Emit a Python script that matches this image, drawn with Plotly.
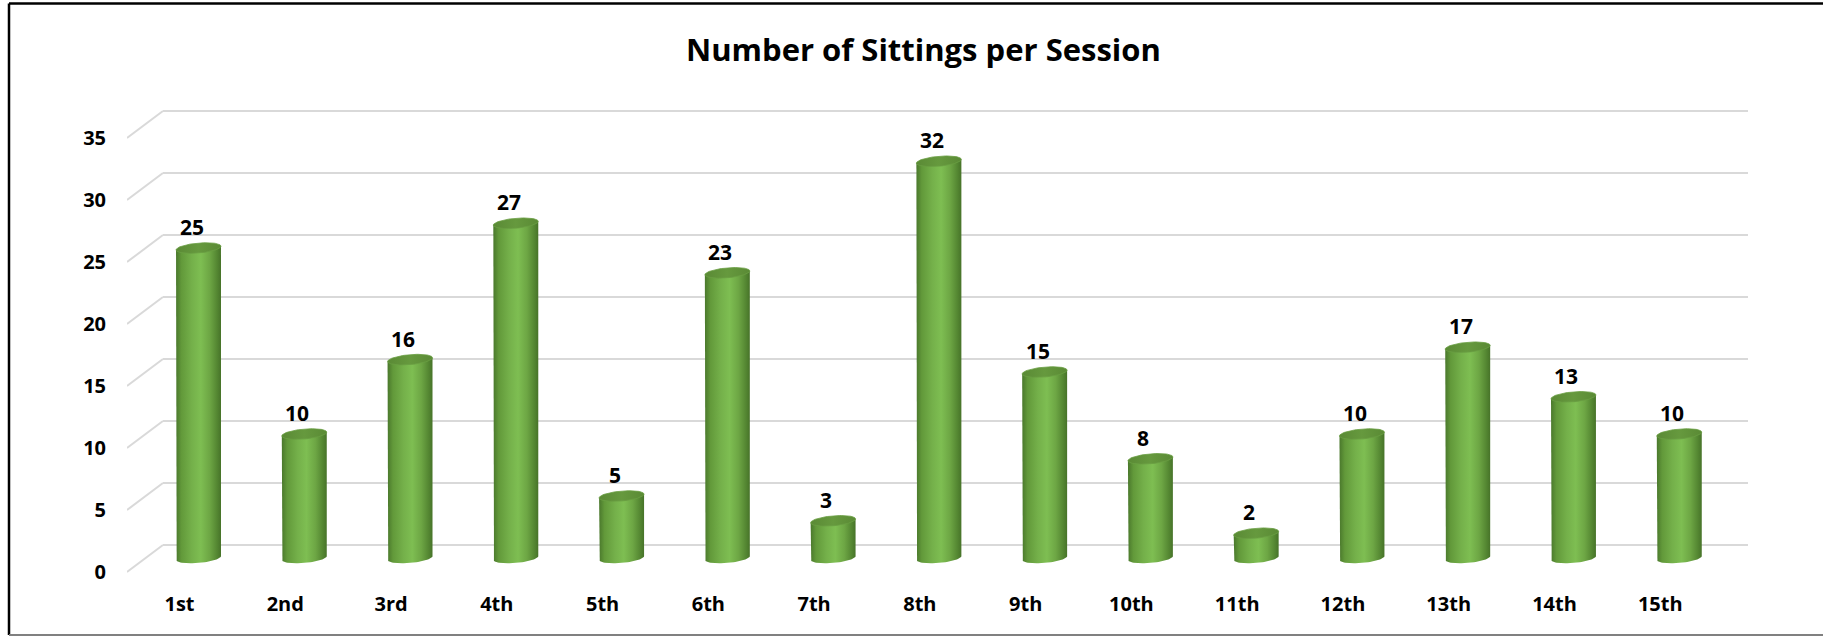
import numpy as np
import plotly.graph_objects as go

# ---- data ----
sessions = ["1st", "2nd", "3rd", "4th", "5th", "6th", "7th", "8th", "9th", "10th",
            "11th", "12th", "13th", "14th", "15th"]
sittings = [25, 10, 16, 27, 5, 23, 3, 32, 15, 8, 2, 10, 17, 13, 10]
y_ticks = [0, 5, 10, 15, 20, 25, 30, 35]
title_text = "Number of Sittings per Session"

# ---- layout geometry (pixels) ----
W, H = 1823, 637
ML, MR, MT, MB = 127, 75, 100, 47
PW, PH = W - ML - MR, H - MT - MB
X0, X1 = -0.676, 14.65
Y0, Y1 = -2.58, 36.94


def px_x(px):
    return (px - ML) / PW


def px_y(py):
    return (H - MB - py) / PH


HALF_W = 0.2125      # half bar width (x units)
RY = 0.40            # ellipse half height (y units)
TILT = 0.15          # ellipse tilt (y units)
BACK_OFF = 1.05      # back wall offset (y units)
FRONT_OFF = 1.13     # front plane offset (y units)
BACK_X = -0.336      # back wall start (x units)

FONT = "Open Sans"

body_scale = [[0.0, "#4a782c"], [0.12, "#62993a"], [0.35, "#74b04a"],
              [0.55, "#7ebe52"], [0.75, "#6da644"], [0.92, "#538531"], [1.0, "#477329"]]
top_scale = [[0.0, "#5a8a35"], [0.5, "#66993e"], [1.0, "#5a8a35"]]

fig = go.Figure()

t = np.linspace(np.pi, 2 * np.pi, 40)
tt = np.linspace(0, 2 * np.pi, 80)
for i, v in enumerate(sittings):
    c = i
    bx = np.cos(t) * HALF_W + c
    tilt_b = (bx - c) / HALF_W * TILT
    xs = np.concatenate([[c - HALF_W], bx, [c + HALF_W], [c - HALF_W]])
    ys = np.concatenate([[v - TILT], np.sin(t) * RY + tilt_b, [v + TILT], [v - TILT]])
    fig.add_trace(go.Scatter(
        x=xs, y=ys, mode="lines", fill="toself", line=dict(width=0),
        fillgradient=dict(type="horizontal", colorscale=body_scale,
                          start=c - HALF_W, stop=c + HALF_W),
        hoverinfo="skip", showlegend=False))
    ex = np.cos(tt) * HALF_W + c
    ey = v + np.sin(tt) * RY + (ex - c) / HALF_W * TILT
    fig.add_trace(go.Scatter(
        x=ex, y=ey, mode="lines", fill="toself", line=dict(width=0.8, color="#6a9e42"),
        fillgradient=dict(type="horizontal", colorscale=top_scale,
                          start=c - HALF_W, stop=c + HALF_W),
        hoverinfo="skip", showlegend=False))

shapes = []
for v in y_ticks:
    shapes.append(dict(type="line", xref="x", yref="y", x0=BACK_X, x1=X1,
                       y0=v + BACK_OFF, y1=v + BACK_OFF,
                       line=dict(color="#d9d9d9", width=2), layer="below"))
    shapes.append(dict(type="line", xref="x", yref="y", x0=X0, x1=BACK_X,
                       y0=v - FRONT_OFF, y1=v + BACK_OFF,
                       line=dict(color="#d9d9d9", width=2), layer="below"))
shapes.append(dict(type="line", xref="paper", yref="paper", x0=px_x(9), x1=px_x(W + 5),
                   y0=px_y(3.5), y1=px_y(3.5), line=dict(color="#000000", width=2.5)))
shapes.append(dict(type="line", xref="paper", yref="paper", x0=px_x(9), x1=px_x(9),
                   y0=px_y(3.5), y1=px_y(635), line=dict(color="#000000", width=2.5)))
shapes.append(dict(type="line", xref="paper", yref="paper", x0=px_x(9), x1=px_x(W + 5),
                   y0=px_y(635), y1=px_y(635), line=dict(color="#808080", width=2)))

annotations = []
for i, v in enumerate(sittings):
    annotations.append(dict(x=i, y=v, xref="x", yref="y", text=str(v), showarrow=False,
                            xshift=-7, yshift=21,
                            font=dict(family=FONT, size=21, color="#000000", weight="bold")))
annotations.append(dict(x=px_x(923), y=px_y(49), xref="paper", yref="paper",
                        text="<b>" + title_text + "</b>", showarrow=False,
                        xanchor="center", yanchor="middle",
                        font=dict(family=FONT, size=31, color="#000000")))

fig.update_layout(
    width=W, height=H,
    margin=dict(l=ML, r=MR, t=MT, b=MB, autoexpand=False),
    paper_bgcolor="white", plot_bgcolor="white",
    shapes=shapes, annotations=annotations,
    xaxis=dict(range=[X0, X1], tickmode="array", tickvals=list(range(len(sessions))),
               ticktext=sessions, showgrid=False, zeroline=False, showline=False,
               ticklabelshift=-19, ticks="", automargin=False,
               tickfont=dict(family=FONT, size=20, color="#000000", weight="bold")),
    yaxis=dict(range=[Y0, Y1], tickmode="array", tickvals=y_ticks,
               ticktext=[str(v) for v in y_ticks], showgrid=False, zeroline=False,
               showline=False, ticks="", ticklabelshift=14, ticklabelstandoff=20,
               automargin=False,
               tickfont=dict(family=FONT, size=20, color="#000000", weight="bold")),
)

fig.write_html("out.html", config={"displayModeBar": False},
               post_script="document.body.style.margin='0';document.body.style.overflow='hidden';")
